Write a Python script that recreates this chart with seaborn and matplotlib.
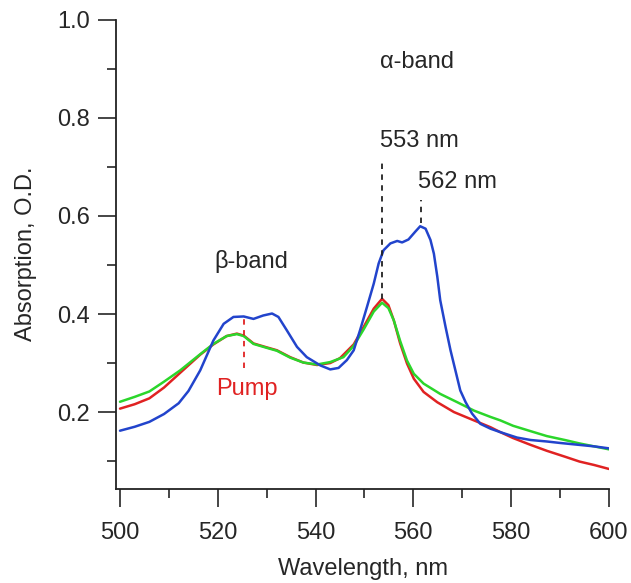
import matplotlib
matplotlib.use("Agg")
import matplotlib.pyplot as plt
import pandas as pd
import seaborn as sns
from matplotlib.ticker import MultipleLocator

# spectra (wavelength in nm, absorbance in O.D.)
wl_blue = [500, 503, 506, 509, 512, 514, 516.4, 519.1, 521.2, 523.2, 525.3, 527.3, 529.3,
           531.1, 532.4, 534.1, 536.2, 538.2, 541, 543, 544.7, 546.4, 547.8, 549.1, 550.5,
           551.9, 552.9, 553.9, 555.3, 556.7, 557.7, 559, 560.4, 561.4, 562.5, 563.5,
           564.2, 564.9, 565.5, 566.6, 567.6, 568.6, 569.6, 570.7, 572, 573.7, 575.8,
           577.8, 581.2, 584, 587.3, 590, 594, 597, 600]
od_blue = [0.162, 0.170, 0.180, 0.196, 0.218, 0.243, 0.285, 0.346, 0.380, 0.394, 0.395,
           0.390, 0.397, 0.401, 0.394, 0.367, 0.333, 0.312, 0.295, 0.287, 0.290, 0.306,
           0.326, 0.367, 0.414, 0.462, 0.503, 0.530, 0.544, 0.549, 0.546, 0.552, 0.568,
           0.579, 0.574, 0.551, 0.523, 0.476, 0.428, 0.373, 0.326, 0.285, 0.244, 0.220,
           0.197, 0.176, 0.166, 0.159, 0.148, 0.143, 0.140, 0.137, 0.133, 0.130, 0.126]

wl_red = [500, 503, 506, 509, 512.3, 516.4, 519.1, 521.8, 523.9, 525.3, 527.3, 530, 532.1,
          534.8, 537.5, 540.3, 543, 545, 547.8, 549.8, 551.9, 553.6, 554.9, 556, 557.3,
          558.7, 560.1, 562.1, 564.9, 568.3, 572.4, 575.8, 577.8, 580.4, 584, 587.3, 591,
          594, 597, 600]
od_red = [0.207, 0.216, 0.228, 0.250, 0.280, 0.317, 0.338, 0.355, 0.360, 0.356, 0.340,
          0.332, 0.326, 0.312, 0.301, 0.296, 0.300, 0.310, 0.338, 0.373, 0.411, 0.431,
          0.418, 0.387, 0.340, 0.299, 0.268, 0.241, 0.220, 0.200, 0.183, 0.169, 0.159,
          0.147, 0.133, 0.121, 0.109, 0.099, 0.092, 0.084]

wl_green = [500, 503, 506, 509, 512.3, 516.4, 519.1, 521.8, 523.9, 525.3, 527.3, 530, 532.1,
            534.8, 537.5, 540.3, 543, 545.7, 547.8, 549.8, 551.9, 553.6, 554.9, 556, 557.3,
            558.7, 560.1, 562.1, 565.5, 569, 572.4, 575.8, 577.8, 580.4, 584, 587.3, 591,
            594, 597, 600]
od_green = [0.221, 0.231, 0.242, 0.262, 0.285, 0.318, 0.339, 0.355, 0.359, 0.355, 0.339,
            0.331, 0.325, 0.311, 0.301, 0.297, 0.302, 0.312, 0.335, 0.368, 0.405, 0.423,
            0.412, 0.387, 0.345, 0.305, 0.278, 0.258, 0.237, 0.220, 0.203, 0.190, 0.183,
            0.172, 0.161, 0.151, 0.143, 0.136, 0.130, 0.124]

series_names = ["red", "green", "blue"]
series_colors = {"red": "#e02222", "green": "#2bd62b", "blue": "#2244cc"}

df = pd.concat([
    pd.DataFrame({"wl": wl_red, "od": od_red, "trace": "red"}),
    pd.DataFrame({"wl": wl_green, "od": od_green, "trace": "green"}),
    pd.DataFrame({"wl": wl_blue, "od": od_blue, "trace": "blue"}),
])

sns.set_style("ticks")
plt.rcParams["font.family"] = ["Liberation Sans", "DejaVu Sans"]
fs = 17

fig = plt.figure(figsize=(6.31, 5.83), dpi=100)
ax = fig.add_axes([0.184, 0.162, 0.781, 0.804])

sns.lineplot(data=df, x="wl", y="od", hue="trace", hue_order=series_names,
             palette=series_colors, estimator=None, sort=False, linewidth=1.8,
             legend=False, ax=ax)

# marker lines
ax.plot([553.5, 553.5], [0.43, 0.71], ls=(0, (3, 3)), color="#222222", lw=1.3)
ax.plot([561.5, 561.5], [0.585, 0.632], ls=(0, (3, 3)), color="#222222", lw=1.3)
ax.plot([525.4, 525.4], [0.289, 0.389], ls=(0, (3, 3)), color="#e02222", lw=1.3)

ax.text(560.7, 0.914, "\u03b1-band", fontsize=fs, ha="center", va="center")
ax.text(553.2, 0.752, "553 nm", fontsize=fs, ha="left", va="center")
ax.text(560.9, 0.670, "562 nm", fontsize=fs, ha="left", va="center")
ax.text(526.8, 0.508, "\u03b2-band", fontsize=fs, ha="center", va="center")
ax.text(525.9, 0.248, "Pump", fontsize=fs, ha="center", va="center", color="#e02222")

ax.set_xlim(499.2, 600)
ax.set_ylim(0.044, 1.0)
ax.xaxis.set_major_locator(MultipleLocator(20))
ax.xaxis.set_minor_locator(MultipleLocator(10))
ax.yaxis.set_major_locator(MultipleLocator(0.2))
ax.yaxis.set_minor_locator(MultipleLocator(0.1))
ax.tick_params(which="major", length=13, width=1.2, labelsize=fs, pad=6)
ax.tick_params(axis="x", which="major", pad=11)
ax.tick_params(which="minor", length=6.5, width=1.2)
ax.set_xlabel("Wavelength, nm", fontsize=fs, labelpad=10)
ax.set_ylabel("Absorption, O.D.", fontsize=fs, labelpad=14)

sns.despine(ax=ax)
for s in ["left", "bottom"]:
    ax.spines[s].set_linewidth(1.3)
    ax.spines[s].set_color("#222222")

fig.savefig("out.png", dpi=100)
